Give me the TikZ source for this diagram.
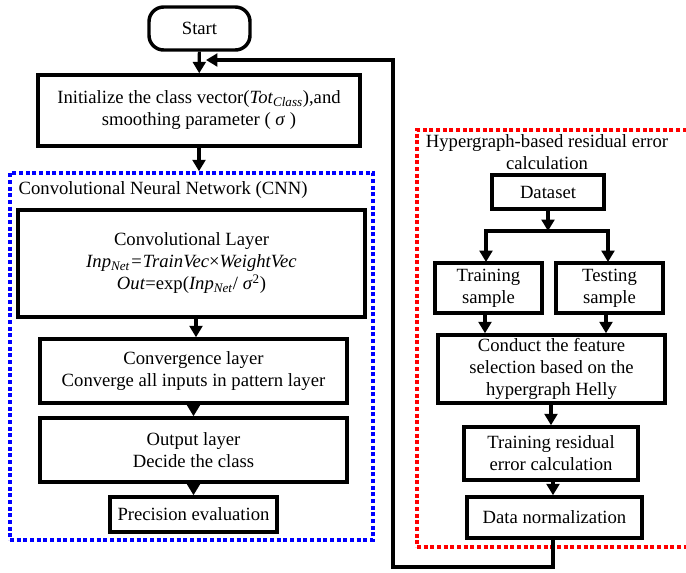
\documentclass[tikz,border=0pt]{standalone}
\usepackage{fontspec}
\setmainfont{Liberation Serif}
\usetikzlibrary{arrows.meta,positioning,calc}

\begin{document}
\begin{tikzpicture}[x=0.75pt,y=-0.75pt,
    txt/.style={font=\fontsize{14}{16.5}\selectfont, align=center},
    box/.style={txt, draw, line width=2.6pt, inner sep=0pt},
    wh/.style 2 args={minimum width=#1*0.75pt, minimum height=#2*0.75pt},
    arr/.style={line width=2.4pt, -{Triangle[width=9.5pt,length=8.5pt]}},
    frame/.style={line width=2.6pt, dash pattern=on 3pt off 2pt, inner sep=0pt}]
    \useasboundingbox (0,0) rectangle (686,572);

    % Start and initialization
    \node[box, wh={101}{43}, rounded corners=11pt] (start) at (199.5,28.5) {Start};
    \node[box, wh={322}{71}] (init) at (199,110.5)
        {Initialize the class vector(\textit{Tot}\textsubscript{\textit{Class}}),and\\
         smoothing parameter ( \textit{σ} )};

    % CNN part
    \node[frame, draw=blue, wh={363}{367}] (cnn) at (191.5,356.5) {};
    \node[txt, anchor=west] (cnntitle) at (14,190) {Convolutional Neural Network (CNN)};
    \node[box, wh={347}{107}] (conv) at (191.5,263.5)
        {Convolutional Layer\\
         \textit{Inp}\textsubscript{\textit{Net}}\textit{=TrainVec}×\textit{WeightVec}\\
         \textit{Out}=exp(\textit{Inp}\textsubscript{\textit{Net}}/ \textit{σ}\textsuperscript{2})};
    \node[box, wh={307}{64}] (conver) at (193.5,371)
        {Convergence layer\\ Converge all inputs in pattern layer};
    \node[box, wh={307}{64}] (output) at (193.5,450)
        {Output layer\\ Decide the class};
    \node[box, wh={167}{35}] (prec) at (193.5,514.5) {Precision evaluation};

    % Hypergraph part
    \node[frame, draw=red, wh={273}{417}] (hyper) at (553.5,338.5) {};
    \node[txt] (hypertitle) at (547,152) {Hypergraph-based residual error\\ calculation};
    \node[box, wh={112}{34}] (data) at (548,192) {Dataset};
    \node[box, wh={107}{50}] (train) at (488.5,288) {Training\\ sample};
    \node[box, wh={107}{50}] (test) at (609.5,288) {Testing\\ sample};
    \node[box, wh={227}{68}] (conduct) at (551.5,369)
        {Conduct the feature\\ selection based on the\\ hypergraph Helly};
    \node[box, wh={174}{53}] (resid) at (551,453.5)
        {Training residual\\ error calculation};
    \node[box, wh={175}{41}] (norm) at (554.5,517.5) {Data normalization};

    % Connectors
    \draw[arr] (start) -- (init);
    \draw[arr] (init.south) -- (init.south |- cnn.north);
    \draw[arr] (conv.south -| 196,0) -- (conver.north -| 196,0);
    \draw[arr] (conver) -- (output);
    \draw[arr] (output) -- (prec);

    \coordinate (split) at (548,231);
    \draw[arr] (data) -- (split);
    \draw[arr] (split) -| (486,262);
    \draw[arr] (split) -| (608,262);
    \draw[arr] (train.south -| 485,0) -- (conduct.north -| 485,0);
    \draw[arr] (test.south -| 606,0) -- (conduct.north -| 606,0);
    \draw[arr] (conduct.south -| 551,0) -- (resid.north -| 551,0);
    \draw[arr] (resid.south -| 553,0) -- (norm.north -| 553,0);

    % Feedback loop
    \coordinate (back) at (393,567);
    \coordinate (fb) at (206,60);
    \draw[arr, line join=miter] (norm.south -| 553,0) |- (back) |- (fb);
\end{tikzpicture}
\end{document}
